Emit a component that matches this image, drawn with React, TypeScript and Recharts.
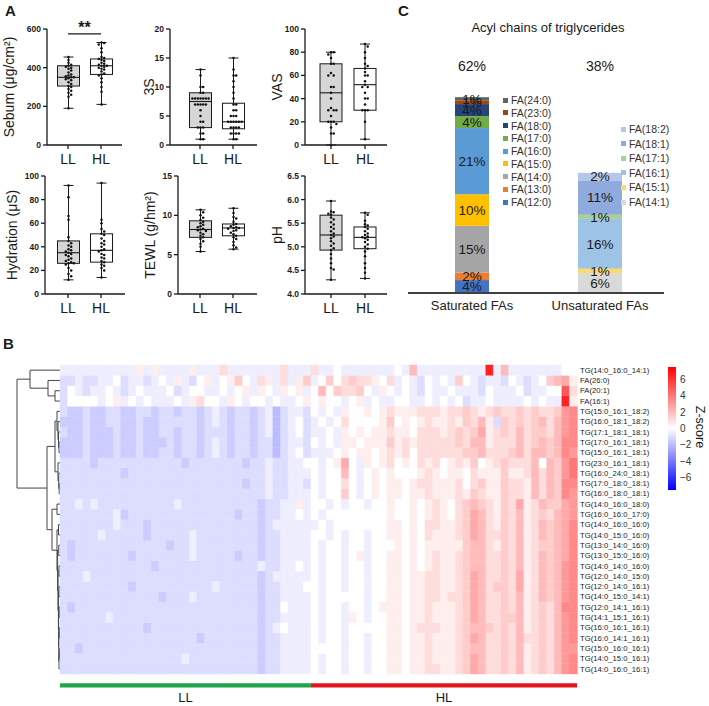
import React from "react";
import {
  BarChart,
  ComposedChart,
  Bar,
  XAxis,
  YAxis,
  Cell,
  LabelList,
  ReferenceLine,
  ReferenceArea,
} from "recharts";

const FONT = "Arial, 'Liberation Sans', Helvetica, sans-serif";
const INK = "#1a1a1a";

/* ---------------- A: skin parameters, LL vs HL ---------------- */

const groups = ["LL", "HL"];

// one value per subject
const sebumLL = [455, 440, 425, 415, 410, 405, 400, 395, 385, 375, 365, 360, 355, 350, 350, 345, 340, 335, 325, 315, 305, 300, 290, 280, 270, 260, 250, 190];
const sebumHL = [530, 528, 520, 500, 480, 455, 450, 445, 440, 435, 425, 420, 415, 410, 410, 405, 400, 395, 390, 380, 370, 365, 360, 345, 325, 300, 275, 210];
const scoreLL = [13, 12, 10, 10, 9, 9, 8, 8, 8, 8, 8, 8, 8, 7, 7, 7, 7, 7, 6, 5, 4, 4, 3, 3, 3, 2, 2, 1, 1];
const scoreHL = [15, 13, 12, 12, 11, 10, 9, 8, 7, 7, 6, 6, 5, 5, 5, 4, 4, 4, 4, 4, 4, 3, 3, 3, 3, 2, 2, 2, 2, 1, 1];
const vasLL = [80, 80, 78, 75, 70, 70, 62, 60, 60, 50, 50, 45, 40, 32, 30, 30, 30, 25, 20, 20, 20, 18, 15, 10, 10, 0];
const vasHL = [87, 85, 80, 75, 70, 68, 66, 63, 60, 60, 55, 52, 50, 50, 45, 40, 40, 35, 30, 30, 30, 20, 5];
const hydrationLL = [92, 82, 66, 63, 48, 45, 43, 41, 40, 38, 37, 36, 35, 34, 33, 32, 30, 29, 28, 27, 26, 26, 25, 22, 20, 17, 15, 12];
const hydrationHL = [94, 63, 60, 55, 53, 51, 50, 47, 45, 43, 42, 40, 38, 37, 36, 34, 33, 31, 30, 28, 27, 25, 24, 22, 20, 14];
const tewlLL = [10.7, 10.4, 10.0, 9.7, 9.4, 9.2, 9.0, 8.8, 8.6, 8.5, 8.3, 8.2, 8.1, 8.0, 7.8, 7.6, 7.4, 7.2, 7.0, 6.7, 6.4, 6.0, 5.4];
const tewlHL = [10.9, 10.3, 9.8, 9.6, 9.2, 8.9, 8.8, 8.6, 8.5, 8.4, 8.4, 8.3, 8.1, 8.0, 7.8, 7.6, 7.4, 7.2, 7.0, 6.6, 6.2, 5.9, 5.7];
const phLL = [5.97, 5.75, 5.73, 5.7, 5.68, 5.62, 5.58, 5.52, 5.47, 5.42, 5.38, 5.33, 5.28, 5.25, 5.22, 5.18, 5.12, 5.07, 5.02, 4.97, 4.93, 4.85, 4.75, 4.65, 4.55, 4.52, 4.3];
const phHL = [5.72, 5.68, 5.55, 5.48, 5.45, 5.42, 5.38, 5.33, 5.28, 5.25, 5.22, 5.2, 5.18, 5.15, 5.1, 5.05, 5.0, 4.96, 4.9, 4.8, 4.65, 4.55, 4.45, 4.33];

// [min, Q1, median, Q3, max] for LL and HL
const sebumBox = [[190, 305, 350, 410, 455], [210, 365, 410, 445, 530]];
const scoreBox = [[1, 3, 7.5, 9, 13], [1, 2.8, 4, 7.2, 15]];
const vasBox = [[0, 20, 45, 70, 80], [5, 30, 52, 66, 87]];
const hydrationBox = [[12, 26, 35, 45, 92], [14, 27, 37, 51, 94]];
const tewlBox = [[5.4, 7.2, 8.2, 9.3, 10.7], [5.7, 7.4, 8.4, 8.9, 10.9]];
const phBox = [[4.3, 4.93, 5.25, 5.67, 5.97], [4.33, 4.96, 5.2, 5.42, 5.72]];

/* ---------------- C: acyl chains of triglycerides (%) ---------------- */

const acylGroups = ["Saturated FAs", "Unsaturated FAs"];
const satNames = ["FA(12:0)", "FA(13:0)", "FA(14:0)", "FA(15:0)", "FA(16:0)", "FA(17:0)", "FA(18:0)", "FA(23:0)", "FA(24:0)"];
const satValues = [4.1, 2.4, 14.8, 10.0, 21.0, 3.8, 3.8, 1.2, 1.0];
const satColors = ["#4472c4", "#ed7d31", "#a5a5a5", "#ffc000", "#5b9bd5", "#70ad47", "#264478", "#9e480e", "#636363"];
const unsatNames = ["FA(14:1)", "FA(15:1)", "FA(16:1)", "FA(17:1)", "FA(18:1)", "FA(18:2)"];
const unsatValues = [6.3, 1.4, 15.8, 1.3, 10.9, 2.4];
const unsatColors = ["#d9d9d9", "#ffd966", "#9dc3e6", "#a9d18e", "#8faadc", "#b4c7e7"];

/* ---------------- B: lipid heatmap (z-scores) ---------------- */

const rowNames = [
  "TG(14:0_16:0_14:1)", "FA(26:0)", "FA(20:1)", "FA(16:1)",
  "TG(15:0_16:1_18:2)", "TG(16:0_18:1_18:2)", "TG(17:1_18:1_18:1)", "TG(17:0_16:1_18:1)",
  "TG(15:0_16:1_18:1)", "TG(23:0_16:1_18:1)", "TG(16:0_24:0_18:1)", "TG(17:0_18:0_18:1)",
  "TG(16:0_18:0_18:1)", "TG(14:0_16:0_18:0)", "TG(16:0_16:0_17:0)", "TG(14:0_16:0_16:0)",
  "TG(14:0_15:0_16:0)", "TG(13:0_14:0_16:0)", "TG(13:0_15:0_16:0)", "TG(14:0_14:0_16:0)",
  "TG(12:0_14:0_15:0)", "TG(12:0_14:0_16:1)", "TG(14:0_15:0_14:1)", "TG(12:0_14:1_16:1)",
  "TG(14:1_15:1_16:1)", "TG(16:0_16:1_16:1)", "TG(16:0_14:1_16:1)", "TG(15:0_16:0_16:1)",
  "TG(14:0_15:0_16:1)", "TG(14:0_16:0_16:1)",
];

// one letter per sample, 'm' = 0, each step = 0.5 (a = -6 ... z = +6.5)
const heatRows = [
  "llllllllll nlnllllnll lolllllllo lllollmlll llllmlqlll llllllzlql llllllmm",
  "kklkkllmkl lklmlnlkmn lmnpmlonlo lnplmpmopo onmolmlkml mlpmlkllkm lklmpqrn",
  "kmlkllmlkl mlllmklmml lmlmnlnmln mnlmqmpoop mlnmlmlkml lmlllkmlll mkllmmwo",
  "kmmmmlmnlm lmlllmlnom mlnmlmmlml lmnmnmmlmn lmllmmllml mlmkllmlll lmlmllzn",
  "kjjkjjkkjj kkjkkjkkjk lkjkkjklik llkmlmlnmm nmnonnnooo nooponopoo popoopst",
  "jjjkjjkkjj kjjkkkkkjk lkjkkjklik lmklmlmomm mmnpmnmnon nonpoqnkpo popqoqst",
  "kjjkjjjkjj kjjkkjkkjk kkjkkjklik lmkllmlnmn mnnonnmooo nopoprnopo qoppoqst",
  "jjjkjjjkjj kjjjkjkkjk lkjkkjkkik llkmlmlnnm nnnpnonooo oopoqqnooo qopqpqtt",
  "jjjkjjjkjj kjjkkjkkjk lkjkkjkkik lmklllmnmn nmnonomooo oooppqooop qoqqpqts",
  "kkkkjkkkkk kkkkkkjkkk kkkkjkklkk llmmlmnrml nmnomnmono mnonpmnopo ooqmqpsu",
  "kkkkkkkkjk kkkkkkkkkk kkkkkkklkk lllmlmmqml mnmnmmmnon mnnmonnnpn noqoqpsu",
  "kkkkkkkkkk kkkkkkkkkk kkkkjkklkk llkmlmmoml mnmnnmnoon nnomopnnpo onqoqptt",
  "kkkkkkkkkk kkkkkkkkkk kkkkkkklkk lllmlmmpml mnmnnmnnon nnonponnpo onqoqpts",
  "kklklkkkkk kkkkklkkkk kkkkkkjkkl lnlmmlmlmm lmmnmmnmno nmopqponpo rnoqpprs",
  "kkkkkkkljk kkkkkkkkkk kkkjkkjkkl lmlmlmmmmm mmmnmmnmno nmoprqonpo qnopoqrs",
  "kkkkkkklkk kjkkkkkkkk kkkkkkjkll llllmlmmmm mmmnnmnmoo nnoprqonpo qnoqpqrt",
  "kkkkklkkkk kjkkkkklkk kkkkkkjkkl lllmmlmlmm lmmnnmnmon nnoprqoopo qnoqpqrt",
  "kjkkkkkkkk kkkkjkklkk kkkkkkjkkl lllmlmmlmm lmmmnmnmnn nnnpqqonpo qnoppqrt",
  "kjkkkkkkkj kkkkkkklkk kkkjkkjkkl lllmlmmlmn lmmnnmnmno nnopqqoopo qnoqpqrt",
  "kkkkkkkkkk kkjkkkkkkk kkkkkklkkl lmlmlmmlmm lmmnnmnmno nnopqqoopo qnoqpqst",
  "kkklkkkkkk kkkkkkkkkk kkkkkkjkll lllmlmmlmm lmmnnmnnoo nnoprqoopo rnoqpqst",
  "kkkkkkkkkj kkkkkkkkkk lkkkkkjkkl llmmlmmlmm lmmnnmnnoo nnoprqoppo rnoqpqst",
  "kkkkkkkkkk kkkjkkklkk kkkkkkjkkl lllmlmmmmm lmmnnmnnoo nooprqoopo qnoqpqst",
  "kjkkkkkkkk kkkkkkkkkk kkkkkkjkkm lllmlmmlmm lmnnnmnnon nnoprqoopo qnopoqtt",
  "kkkkkklkkk kkkkkkkkkk kkkkkkjkkl lllmlmmlnm lmmnnmnnon nnoprqoopp qnopoqst",
  "kkkkkkkkkk kjkkkkkkkk kkkkkkjklm lllmlmmlmm mmmnnmnooo nnopqqpopo qnopoqst",
  "kkkkkkkkkk kkkkkkkkjk kkkkkkjkkl lllmlmmlmm lmmnnmnnon nnoprqoopo qoopoqst",
  "kkjkkkkkkk kkkkkkkkkk kkkkkkjkkl lllmmmmlmm lmmnnmnnon nnopqqoopo qnopoqss",
  "kkkkkkkkkk kkkkkklkkk kkkkkkjkkl lllmlmmlmm lmmnnmnnon nnoprqoopo qnopoqst",
  "kkkkkkkkkk kkkkkkkkkk kkkkkkjkkl lllmlmmlmm lmmnnmnnoo nnoprqoopo qnopoqst",
];
const llCount = 33; // first 33 samples are LL, the rest HL

// row clustering: [left, right, height]
type Tree = number | [Tree, Tree, number];
const topCluster: Tree = [0, [1, [2, 3, 0.5], 1.2], 3.0];
const clusterA: Tree = [[4, [5, [6, [7, 8, 0.1], 0.15], 0.2], 0.3], [9, [10, [11, 12, 0.08], 0.12], 0.2], 0.5];
const clusterB: Tree = [
  [13, 14, 0.3],
  [[15, 16, 0.15], [[17, 18, 0.12], [[19, 20, 0.1], [[21, 22, 0.1], [[23, 24, 0.08], [[25, 26, 0.07], [[27, 28, 0.06], 29, 0.1], 0.12], 0.14], 0.16], 0.2], 0.24], 0.3],
  0.8,
];
const rowTree: Tree = [topCluster, [clusterA, clusterB, 1.3], 4.3];

const zTicks = [-6, -4, -2, 0, 2, 4, 6];
const zSpan = [-7.5, 7.5];

/* ---------------- helpers ---------------- */

const LEVELS = "abcdefghijklmnopqrstuvwxyz";
const zGrid = heatRows.map((s) => s.replace(/ /g, "").split("").map((ch) => (LEVELS.indexOf(ch) - 12) / 2));
const nRows = rowNames.length;
const nCols = zGrid[0].length;

function zColor(z: number) {
  const t = Math.max(-1, Math.min(1, z / zSpan[1]));
  if (t >= 0) {
    const g = Math.round(255 * (1 - t));
    return `rgb(255,${g},${g})`;
  }
  const g = Math.round(255 * (1 + t));
  return `rgb(${g},${g},255)`;
}

// simple beeswarm: spread points that would overlap
function swarm(ys: number[], step = 2.7) {
  const placed: { x: number; y: number }[] = [];
  const order = ys.map((_, i) => i).sort((a, b) => ys[a] - ys[b]);
  for (const i of order) {
    const y = ys[i];
    for (let k = 0; k < 40; k++) {
      const dx = k === 0 ? 0 : (k % 2 ? 1 : -1) * Math.ceil(k / 2) * step;
      if (placed.every((p) => Math.hypot(p.x - dx, p.y - y) >= step)) {
        placed.push({ x: dx, y });
        break;
      }
    }
  }
  return placed;
}

const BoxShape = (props: any) => {
  const { x, y, width, height, payload, fill } = props;
  const [lo, q1, med, q3, hi] = payload.stats;
  const top = Math.min(y, y + height);
  const h = Math.abs(height);
  const px = (v: number) => top + (h * (hi - v)) / (hi - lo);
  const cx = x + width / 2;
  const cap = 5;
  const pts = swarm(payload.dots.map((v: number) => px(v)));
  return (
    <g>
      <line x1={cx} x2={cx} y1={px(hi)} y2={px(lo)} stroke={INK} strokeWidth={1} />
      <line x1={cx - cap} x2={cx + cap} y1={px(hi)} y2={px(hi)} stroke={INK} strokeWidth={1} />
      <line x1={cx - cap} x2={cx + cap} y1={px(lo)} y2={px(lo)} stroke={INK} strokeWidth={1} />
      <rect x={x} y={px(q3)} width={width} height={px(q1) - px(q3)} fill={fill} stroke={INK} strokeWidth={1} />
      <line x1={x} x2={x + width} y1={px(med)} y2={px(med)} stroke={INK} strokeWidth={1.1} />
      {pts.map((p, i) => (
        <circle key={i} cx={cx + p.x} cy={p.y} r={1.25} fill="#111" />
      ))}
    </g>
  );
};

type BoxProps = {
  left: number;
  top: number;
  height: number;
  axisX: number;
  right: number;
  padL: number;
  padR: number;
  title: string;
  domain: [number, number];
  ticks: number[];
  digits?: number;
  boxes: number[][];
  dots: number[][];
  star?: number;
};

function BoxPanel(p: BoxProps) {
  const data = groups.map((g, i) => ({
    group: g,
    range: [p.boxes[i][0], p.boxes[i][4]],
    stats: p.boxes[i],
    dots: p.dots[i],
  }));
  const axisStyle = { stroke: INK, strokeWidth: 1.3 };
  return (
    <div style={{ position: "absolute", left: p.left, top: p.top }}>
      <ComposedChart
        width={p.right + 5 - p.left}
        height={p.height}
        data={data}
        margin={{ top: 10, right: 5, bottom: 0, left: 0 }}
      >
        <XAxis
          dataKey="group"
          padding={{ left: p.padL, right: p.padR }}
          height={30}
          tick={{ fontSize: 14, fill: INK }}
          tickSize={4}
          tickMargin={5}
          axisLine={axisStyle}
          tickLine={axisStyle}
        />
        <YAxis
          width={p.axisX - p.left}
          domain={p.domain}
          ticks={p.ticks}
          interval={0}
          tickFormatter={(v: number) => (p.digits ? v.toFixed(p.digits) : String(v))}
          tick={{ fontSize: 8.5, fontWeight: 700, fill: INK }}
          tickSize={4}
          tickMargin={2}
          axisLine={axisStyle}
          tickLine={axisStyle}
          label={{
            value: p.title,
            angle: -90,
            position: "insideLeft",
            offset: 9,
            style: { textAnchor: "middle", fontSize: 14, fill: INK },
          }}
        />
        <Bar dataKey="range" barSize={22} shape={BoxShape} isAnimationActive={false}>
          {data.map((d, i) => (
            <Cell key={d.group} fill={i === 0 ? "#d6d6d6" : "#ffffff"} />
          ))}
        </Bar>
        {p.star != null && (
          <ReferenceLine
            segment={[
              { x: "LL", y: p.star },
              { x: "HL", y: p.star },
            ]}
            stroke={INK}
            strokeWidth={1.3}
            ifOverflow="visible"
            label={{ value: "**", position: "top", offset: 1, fontSize: 16, fontWeight: 700, fill: INK }}
          />
        )}
      </ComposedChart>
    </div>
  );
}

const satTotal = satValues.reduce((a, b) => a + b, 0);
const unsatTotal = unsatValues.reduce((a, b) => a + b, 0);
const acylTotals: Record<string, number> = { [acylGroups[0]]: satTotal, [acylGroups[1]]: unsatTotal };
const acylData = [
  { name: acylGroups[0], ...Object.fromEntries(satNames.map((n, i) => [n, satValues[i]])) },
  { name: acylGroups[1], ...Object.fromEntries(unsatNames.map((n, i) => [n, unsatValues[i]])) },
];
const acylSeries = [
  ...satNames.map((n, i) => ({ name: n, color: satColors[i] })),
  ...unsatNames.map((n, i) => ({ name: n, color: unsatColors[i] })),
];

// saturated column is drawn a little narrower
const SegmentShape = (p: any) => {
  if (!p.height) return null;
  const w = p.payload.name === acylGroups[0] ? 34 : 44;
  return <rect x={p.x + (p.width - w) / 2} y={p.y} width={w} height={p.height} fill={p.fill} />;
};

function AcylChart() {
  return (
    <div style={{ position: "absolute", left: 400, top: 40 }}>
      <BarChart width={274} height={283} data={acylData} margin={{ top: 18, right: 10, bottom: 5, left: 8 }}>
        <XAxis
          dataKey="name"
          height={25}
          tickLine={false}
          tickSize={0}
          tickMargin={8}
          axisLine={{ stroke: "#404040", strokeWidth: 2 }}
          tick={{ fontSize: 13, fill: "#222" }}
        />
        <XAxis
          xAxisId="total"
          orientation="top"
          dataKey="name"
          height={30}
          axisLine={false}
          tickLine={false}
          tickSize={0}
          tickMargin={17}
          tick={{ fontSize: 14, fill: "#222" }}
          tickFormatter={(n: string) => `${Math.round(acylTotals[n])}%`}
        />
        <YAxis hide domain={[0, 65]} />
        {acylSeries.map((s) => (
          <Bar
            key={s.name}
            dataKey={s.name}
            stackId="fa"
            fill={s.color}
            barSize={44}
            shape={SegmentShape}
            isAnimationActive={false}
          >
            <LabelList
              dataKey={s.name}
              position="center"
              formatter={(v: any) => (v == null ? "" : `${Math.round(v)}%`)}
              style={{ fontSize: 13.5, fill: "#1a1a1a" }}
            />
          </Bar>
        ))}
      </BarChart>
    </div>
  );
}

function AcylLegend({ names, colors, x, y, gap }: { names: string[]; colors: string[]; x: number; y: number; gap: number }) {
  const items = names.map((n, i) => ({ n, c: colors[i] })).reverse();
  return (
    <>
      {items.map((it, i) => (
        <div
          key={it.n}
          style={{
            position: "absolute",
            left: x,
            top: y + i * gap - 6,
            height: 12,
            display: "flex",
            alignItems: "center",
            fontSize: 10.5,
            color: "#333",
            whiteSpace: "nowrap",
          }}
        >
          <span style={{ width: 5, height: 5, background: it.c, marginRight: 3, display: "inline-block" }} />
          {it.n}
        </div>
      ))}
    </>
  );
}

/* heatmap geometry */
const HM_LEFT = 60;
const HM_TOP = 365;
const HM_HEIGHT = 309;
const rowH = HM_HEIGHT / nRows;

const unitRow = Object.fromEntries(rowNames.map((_, r) => [`r${r}`, 1]));
const heatCols = Array.from({ length: nCols }, (_, c) => ({ col: c, ...unitRow }));
const rowTicks = rowNames.map((_, i) => nRows - i - 0.5);

function Heatmap() {
  const bottomUp = rowNames.map((_, i) => nRows - 1 - i);
  return (
    <div style={{ position: "absolute", left: 0, top: HM_TOP - 10 }}>
      <BarChart
        width={660}
        height={350}
        data={heatCols}
        margin={{ top: 10, right: 3, bottom: 350 - 10 - HM_HEIGHT, left: HM_LEFT }}
        barCategoryGap={0}
        barGap={0}
      >
        <XAxis dataKey="col" type="category" hide />
        <YAxis
          orientation="right"
          type="number"
          domain={[0, nRows]}
          ticks={rowTicks}
          interval={0}
          width={80}
          axisLine={false}
          tickLine={false}
          tickSize={0}
          tickMargin={3}
          tick={{ fontSize: 7.7, fill: "#222" }}
          tickFormatter={(v: number) => rowNames[nRows - 1 - Math.floor(v)]}
        />
        {bottomUp.map((r) => (
          <Bar key={r} dataKey={`r${r}`} stackId="hm" isAnimationActive={false}>
            {heatCols.map((_, c) => {
              const col = zColor(zGrid[r][c]);
              return <Cell key={c} fill={col} stroke={col} strokeWidth={0.4} />;
            })}
          </Bar>
        ))}
        <ReferenceArea
          x1={0}
          x2={llCount - 1}
          y1={-0.9}
          y2={-1.3}
          ifOverflow="visible"
          fill="#1fa64a"
          fillOpacity={1}
          stroke="none"
          label={{ value: "LL", position: "bottom", offset: 5, fontSize: 13, fill: INK }}
        />
        <ReferenceArea
          x1={llCount}
          x2={nCols - 1}
          y1={-0.9}
          y2={-1.3}
          ifOverflow="visible"
          fill="#e3161c"
          fillOpacity={1}
          stroke="none"
          label={{ value: "HL", position: "bottom", offset: 5, fontSize: 13, fill: INK }}
        />
      </BarChart>
    </div>
  );
}

function Dendrogram() {
  const lines: JSX.Element[] = [];
  const scale = 10;
  const walk = (t: Tree): { x: number; y: number } => {
    if (typeof t === "number") return { x: HM_LEFT, y: (t + 0.5) * rowH };
    const a = walk(t[0]);
    const b = walk(t[1]);
    const x = HM_LEFT - t[2] * scale;
    const k = lines.length;
    lines.push(<line key={k} x1={x} x2={x} y1={a.y} y2={b.y} />);
    lines.push(<line key={k + 1} x1={x} x2={a.x} y1={a.y} y2={a.y} />);
    lines.push(<line key={k + 2} x1={x} x2={b.x} y1={b.y} y2={b.y} />);
    return { x, y: (a.y + b.y) / 2 };
  };
  walk(rowTree);
  return (
    <svg
      width={HM_LEFT}
      height={HM_HEIGHT}
      style={{ position: "absolute", left: 0, top: HM_TOP }}
      stroke="#444"
      strokeWidth={1}
      fill="none"
    >
      {lines}
    </svg>
  );
}

const GradientBar = (p: any) => (
  <g>
    <defs>
      <linearGradient id="zscale" x1="0" y1="0" x2="0" y2="1">
        <stop offset="0" stopColor={zColor(zSpan[1])} />
        <stop offset="0.5" stopColor={zColor(0)} />
        <stop offset="1" stopColor={zColor(zSpan[0])} />
      </linearGradient>
    </defs>
    <rect x={p.x} y={p.y} width={p.width} height={p.height} fill="url(#zscale)" />
  </g>
);

function ColorBar() {
  return (
    <div style={{ position: "absolute", left: 660, top: 360 }}>
      <BarChart
        width={40}
        height={140}
        data={[{ name: "z", span: zSpan }]}
        margin={{ top: 7, right: 0, bottom: 10, left: 8 }}
        barCategoryGap={0}
      >
        <XAxis dataKey="name" hide />
        <YAxis
          orientation="right"
          domain={zSpan}
          ticks={zTicks}
          interval={0}
          width={24}
          axisLine={false}
          tickLine={false}
          tickSize={0}
          tickMargin={4}
          tick={{ fontSize: 10, fill: "#333" }}
          tickFormatter={(v: number) => (v < 0 ? `\u2212${Math.abs(v)}` : String(v))}
        />
        <Bar dataKey="span" shape={GradientBar} isAnimationActive={false} />
      </BarChart>
    </div>
  );
}

const Letter = ({ x, y, t }: { x: number; y: number; t: string }) => (
  <div style={{ position: "absolute", left: x, top: y, fontSize: 15, fontWeight: 700, lineHeight: "15px" }}>{t}</div>
);

export default function App() {
  return (
    <div
      style={{
        position: "absolute",
        left: 0,
        top: 0,
        width: 709,
        height: 706,
        background: "#fff",
        fontFamily: FONT,
        color: INK,
        overflow: "hidden",
      }}
    >
      <Letter x={5} y={3} t="A" />
      <Letter x={398} y={3} t="C" />
      <Letter x={3} y={336} t="B" />

      <BoxPanel left={0} top={19} height={156} axisX={47} right={122} padL={4.5} padR={4.5}
        title="Sebum (μg/cm²)" domain={[0, 600]} ticks={[0, 200, 400, 600]}
        boxes={sebumBox} dots={[sebumLL, sebumHL]} star={575} />
      <BoxPanel left={140} top={19} height={156} axisX={170} right={257} padL={13.5} padR={7.5}
        title="3S" domain={[0, 20]} ticks={[0, 5, 10, 15, 20]}
        boxes={scoreBox} dots={[scoreLL, scoreHL]} />
      <BoxPanel left={268} top={19} height={156} axisX={305} right={387} padL={9} padR={5}
        title="VAS" domain={[0, 100]} ticks={[0, 20, 40, 60, 80, 100]}
        boxes={vasBox} dots={[vasLL, vasHL]} />
      <BoxPanel left={3} top={166} height={158} axisX={45} right={125} padL={6.5} padR={7.5}
        title="Hydration (μS)" domain={[0, 100]} ticks={[0, 20, 40, 60, 80, 100]}
        boxes={hydrationBox} dots={[hydrationLL, hydrationHL]} />
      <BoxPanel left={141} top={166} height={158} axisX={178} right={257} padL={5.5} padR={7.5}
        title="TEWL (g/hm²)" domain={[0, 15]} ticks={[0, 5, 10, 15]}
        boxes={tewlBox} dots={[tewlLL, tewlHL]} />
      <BoxPanel left={268} top={166} height={158} axisX={305} right={387} padL={9} padR={5}
        title="pH" domain={[4, 6.5]} ticks={[4, 4.5, 5, 5.5, 6, 6.5]} digits={1}
        boxes={phBox} dots={[phLL, phHL]} />

      <div style={{ position: "absolute", left: 440, top: 20, width: 216, textAlign: "center", fontSize: 13, lineHeight: "16px" }}>
        Acyl chains of triglycerides
      </div>
      <AcylChart />
      <AcylLegend names={satNames} colors={satColors} x={503} y={100} gap={12.75} />
      <AcylLegend names={unsatNames} colors={unsatColors} x={621} y={129} gap={14.6} />

      <Dendrogram />
      <Heatmap />
      <ColorBar />
      <div
        style={{
          position: "absolute",
          left: 700,
          top: 427,
          fontSize: 12.5,
          whiteSpace: "nowrap",
          transform: "translate(-50%, -50%) rotate(90deg)",
        }}
      >
        Z-score
      </div>
    </div>
  );
}
